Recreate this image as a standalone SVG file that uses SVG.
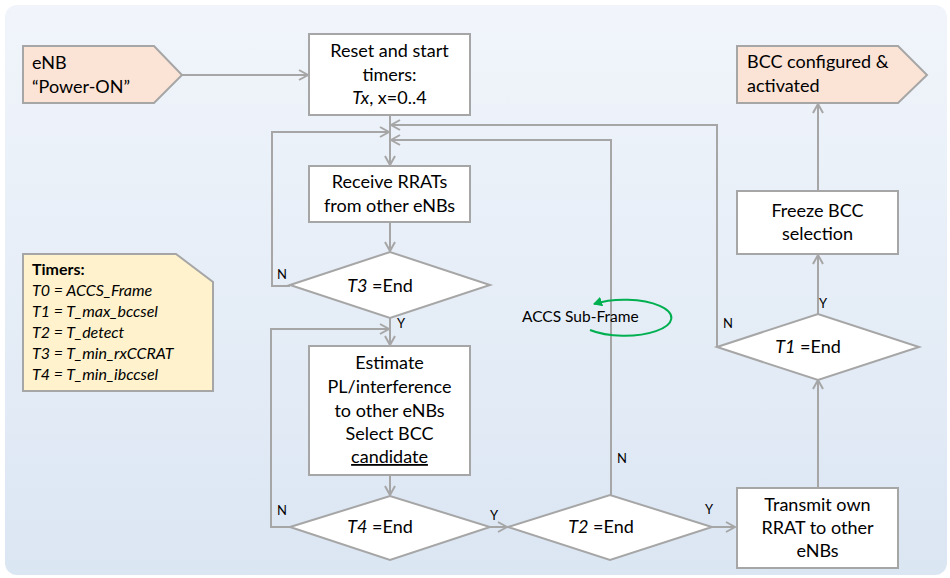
<svg xmlns="http://www.w3.org/2000/svg" width="950" height="578" viewBox="0 0 950 578">
<defs>
<linearGradient id="bg" x1="0" y1="0" x2="0" y2="1">
<stop offset="0" stop-color="#f1f5fb"/>
<stop offset="1" stop-color="#dbe6f3"/>
</linearGradient>
<marker id="arr" markerUnits="userSpaceOnUse" markerWidth="12" markerHeight="12" refX="10" refY="6" orient="auto" viewBox="0 0 12 12">
<path d="M1,1 L10,6 L1,11" fill="none" stroke="#a6a6a6" stroke-width="2"/>
</marker>
<marker id="garr" markerUnits="userSpaceOnUse" markerWidth="10" markerHeight="10" refX="8" refY="5" orient="auto" viewBox="0 0 10 10">
<path d="M0,0 L9,5 L0,10 Z" fill="#00b050"/>
</marker>
</defs>
<style>
.box{fill:#ffffff;stroke:#a6a6a6;stroke-width:2}
.term{fill:#fbe3d6;stroke:#a6a6a6;stroke-width:2}
.note{fill:#fff2cc;stroke:#a6a6a6;stroke-width:2}
.c{fill:none;stroke:#a6a6a6;stroke-width:2;marker-end:url(#arr)}
.t{font-family:Lato,"Liberation Sans",sans-serif;font-size:18px;fill:#000}
.m{text-anchor:middle}
.s{font-family:Lato,"Liberation Sans",sans-serif;font-size:13px;fill:#000}
.n{font-family:Lato,"Liberation Sans",sans-serif;font-size:16px;fill:#000;font-style:italic}
.i{font-style:italic}
</style>
<rect x="5" y="5" width="942" height="570" rx="12" fill="url(#bg)"/>
<g id="connectors">
<path class="c" d="M182,75 H308"/>
<path class="c" d="M390,115 V165"/>
<path class="c" d="M390,222 V251"/>
<path class="c" d="M290,286 H272 V132 H389"/>
<path class="c" d="M390,318 V345"/>
<path class="c" d="M390,475 V495"/>
<path class="c" d="M290,527 H271 V329 H389"/>
<path class="c" d="M490,527 H507"/>
<path class="c" d="M611,495 V140 H391"/>
<path class="c" d="M712,527 H735"/>
<path class="c" d="M818,488 V380"/>
<path class="c" d="M717,347 V125 H391"/>
<path class="c" d="M818,314 V255"/>
<path class="c" d="M818,191 V104"/>
</g>
<g id="power_on">
<polygon class="term" points="23,46 154,46 182,75 154,103 23,103"/>
<text class="t" x="32" y="69">eNB</text>
<text class="t" x="32" y="93">“Power-ON”</text>
</g>
<g id="reset">
<rect class="box" x="309" y="34" width="161" height="81"/>
<text class="t m" x="389.5" y="57">Reset and start</text>
<text class="t m" x="389.5" y="81">timers:</text>
<text class="t m" x="389.5" y="104"><tspan class="i">Tx</tspan>, x=0..4</text>
</g>
<g id="receive">
<rect class="box" x="309" y="166" width="161" height="56"/>
<text class="t m" x="389.5" y="188">Receive RRATs</text>
<text class="t m" x="389.5" y="212">from other eNBs</text>
</g>
<g id="t3">
<polygon class="box" points="290,285 390,252 490,285 390,318"/>
<text class="t m" x="380" y="292"><tspan class="i">T3</tspan> =End</text>
<text class="s" x="277" y="279">N</text>
<text class="s" x="397" y="328">Y</text>
</g>
<g id="estimate">
<rect class="box" x="309" y="346" width="161" height="129"/>
<text class="t m" x="389.5" y="369">Estimate</text>
<text class="t m" x="389.5" y="393">PL/interference</text>
<text class="t m" x="389.5" y="417">to other eNBs</text>
<text class="t m" x="389.5" y="440">Select BCC</text>
<text class="t m" x="389.5" y="463" text-decoration="underline">candidate</text>
</g>
<g id="t4">
<polygon class="box" points="290,527 390,496 490,527 390,560"/>
<text class="t m" x="380" y="533"><tspan class="i">T4</tspan> =End</text>
<text class="s" x="277" y="515">N</text>
<text class="s" x="490" y="520">Y</text>
</g>
<g id="t2">
<polygon class="box" points="508,527 610,495 712,527 610,560"/>
<text class="t m" x="601" y="533"><tspan class="i">T2</tspan> =End</text>
<text class="s" x="617" y="463">N</text>
<text class="s" x="705" y="514">Y</text>
</g>
<g id="transmit">
<rect class="box" x="737" y="488" width="161" height="80"/>
<text class="t m" x="817.5" y="511">Transmit own</text>
<text class="t m" x="817.5" y="534">RRAT to other</text>
<text class="t m" x="817.5" y="557">eNBs</text>
</g>
<g id="t1">
<polygon class="box" points="717,347 818,314 919,347 818,380"/>
<text class="t m" x="808" y="353"><tspan class="i">T1</tspan> =End</text>
<text class="s" x="723" y="328">N</text>
<text class="s" x="819" y="308">Y</text>
</g>
<g id="freeze">
<rect class="box" x="737" y="191" width="161" height="63"/>
<text class="t m" x="817.5" y="217">Freeze BCC</text>
<text class="t m" x="817.5" y="240">selection</text>
</g>
<g id="bcc_activated">
<polygon class="term" points="737,46 898,46 927,75 898,103 737,103"/>
<text class="t" x="747" y="68">BCC configured &amp;</text>
<text class="t" x="747" y="92">activated</text>
</g>
<g id="timers">
<polygon class="note" points="23,254 176,254 213,282 213,391 23,391"/>
<text class="n" x="32" y="275" style="font-style:normal;font-weight:bold">Timers:</text>
<text class="n" x="32" y="296">T0 = ACCS_Frame</text>
<text class="n" x="32" y="317">T1 = T_max_bccsel</text>
<text class="n" x="32" y="338">T2 = T_detect</text>
<text class="n" x="32" y="359">T3 = T_min_rxCCRAT</text>
<text class="n" x="32" y="380">T4 = T_min_ibccsel</text>
</g>
<g id="accs_subframe">
<path d="M590,330 A47,18 0 1 0 594,304" fill="none" stroke="#00b050" stroke-width="2" marker-end="url(#garr)"/>
<text x="522" y="322" style="font-family:Lato,'Liberation Sans',sans-serif;font-size:15.5px;fill:#000">ACCS Sub-Frame</text>
</g>
</svg>
